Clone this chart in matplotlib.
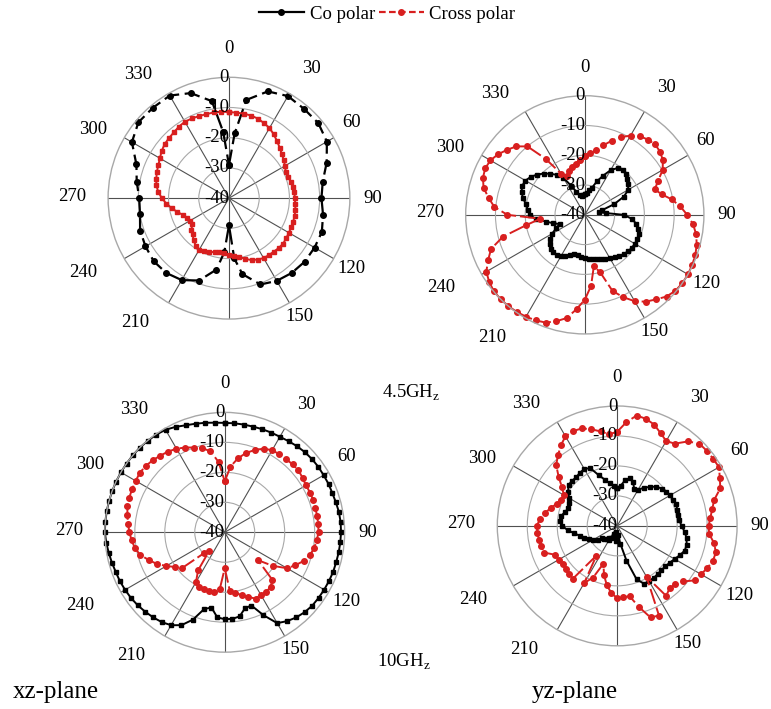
import numpy as np
import matplotlib
matplotlib.use('Agg')
import matplotlib.pyplot as plt
from matplotlib.lines import Line2D

plt.rcParams['font.family'] = 'Liberation Serif'
plt.rcParams['mathtext.fontset'] = 'custom'
plt.rcParams['mathtext.rm'] = 'Liberation Serif'

# angles in degrees (0 at top, clockwise), gains in dB
ang5 = np.arange(0, 360, 5)

# xz-plane, 4.5 GHz
xz45_co_ang = [0, 5, 10, 20, 30, 40, 50, 60, 70, 80, 90, 100, 110, 120, 130, 140, 150, 160,
               170, 175, 180, 185, 190, 200, 210, 220, 230, 240, 250, 260, 270, 280, 290,
               300, 310, 320, 330, 340, 350, 355]
xz45_co = [-29, -18.5, -7, -2.4, -1.0, -1.4, -1.4, -2.6, -5.6, -8.5, -9.4, -8.4, -7.3, -7.3,
           -7.3, -7.7, -8.4, -9.6, -14.5, -20, -31, -22, -16, -11, -8.7, -7.7, -7.5, -8.1,
           -8.7, -10.1, -10.3, -9.0, -7.4, -2.9, -0.9, -0.9, -0.8, -3, -7.4, -18]
xz45_cross = [-11.5, -11.6, -11.6, -11.7, -12.0, -12.6, -13.2, -14.2, -15.3, -16.3, -17.2, -17.9,
              -18.6, -19.3, -19.3, -18.8, -18.4, -18.3, -18.2, -18.0, -17.7, -17.5, -17.4, -17.3,
              -17.1, -16.9, -16.6, -16.7, -16.9, -17.0, -17.1, -17.6, -18.2, -19.2, -20.3, -20.9,
              -21.3, -21.7, -21.9, -21.5, -21.1, -20.6, -20.2, -20.8, -21.8, -23.0, -23.8, -25.2,
              -25.2, -24.6, -23.8, -22.3, -20.8, -19.2, -17.8, -16.5, -15.6, -15.1, -14.6, -14.2,
              -13.6, -12.8, -12.2, -11.9, -11.6, -11.1, -10.8, -10.9, -11.1, -11.2, -11.2, -11.3]

# yz-plane, 4.5 GHz
yz45_co = [-33, -32.5, -31.5, -30.5, -28, -25.5, -22.7, -20.8, -20.3, -20.6, -21.3, -22.2,
           -23.2, -25.5, -29.5, -34, -35, -33, -27, -24, -22.5, -21.5, -20.8, -20.6,
           -20.6, -20.7, -21.0, -21.4, -22.0, -22.6, -23.2, -23.7, -24.2, -24.6, -25.0, -25.2,
           -25.4, -25.8, -26.2, -26.5, -25.8, -24.6, -23.9, -23.5, -23.5, -23.9, -24.8, -25.8,
           -27.2, -29.5, -31, -29, -26.9, -23.5, -21.5, -20.8, -20.0, -18.5, -17.4, -16.8,
           -17.0, -17.8, -19.0, -20.4, -22.0, -23.6, -25.6, -29.3, -31.8, -33.2, -33.7, -33.4]
yz45_cross = [-20.4, -19.3, -18.0, -15.8, -13.5, -11.2, -9.3, -7.8, -7.0, -6.6, -7.0, -8.0,
              -9.8, -12.8, -15.0, -13.3, -10.3, -7.8, -5.6, -3.5, -2.0, -1.1, -0.5, -0.2,
              0, 0, -0.3, -1.2, -2.9, -4.4, -6.5, -9.5, -12.8, -20, -22.5, -16,
              -11.5, -8.2, -4.8, -3.0, -1.5, -0.9, -0.5, -0.2, 0, 0, -0.1, -0.8,
              -1.8, -4.2, -6.5, -11.5, -20, -25, -14, -9.5, -7.2, -4.8, -3.6, -3.1,
              -3.4, -4.5, -6.0, -7.5, -10.0, -17, -24, -25.5, -24.5, -23.4, -22.5, -21.5]

# xz-plane, 10 GHz
xz10_co = [-3.5, -3.5, -3.5, -3.5, -3.4, -3.3, -3.2, -2.9, -2.5, -2.2, -2.0, -1.9,
           -1.9, -1.8, -1.8, -1.6, -1.3, -1.2, -1.2, -1.3, -1.4, -1.5, -1.5, -1.6,
           -1.7, -1.8, -1.9, -2.3, -2.9, -3.8, -5.0, -9.5, -14.0, -13.8, -11.5, -11.0,
           -11.0, -11.5, -14.5, -13.5, -9.0, -5.8, -4.2, -3.4, -2.9, -2.5, -2.1, -1.8,
           -1.6, -1.4, -1.3, -1.0, -0.7, -0.3, 0, 0, 0, 0, 0, 0,
           0, 0, 0, 0, -0.1, -0.2, -0.5, -1.2, -2.0, -2.5, -2.9, -3.3]
xz10_cross = [-23, -18, -15, -12.6, -10.8, -9.2, -8.4, -8.2, -8.1, -8.0, -7.9, -8.3,
              -8.7, -8.6, -8.6, -8.7, -8.7, -8.7, -8.7, -9.2, -9.7, -10.6, -12.0, -14.0,
              -16.0, -20.5, -25.5, -17.5, -16.2, -15.8, -15.9, -15.6, -17, -18.3, -19.5, -20.4,
              -28, -21, -19.6, -19.7, -19.7, -20, -20.8, -24.5, -32, -30, -21.5, -19.8,
              -17.5, -15.0, -13, -10.8, -9.6, -8.8, -8.2, -7.6, -7.0, -6.4, -6.1, -5.9,
              -5.7, -5.4, -5.6, -6.0, -6.6, -7.1, -7.8, -8.8, -9.9, -11, -12.5, -16.5]

# yz-plane, 10 GHz
yz10_co = [-27.5, -26.5, -24.5, -23.5, -24.5, -26.5, -26, -24.5, -23, -21.5, -20.6, -20.0,
           -19.6, -19.3, -19.1, -19.2, -19.5, -19.2, -18.5, -17.4, -16.5, -16, -16, -16.9,
           -17.9, -18.6, -19, -19.1, -19, -18.8, -18.8, -18.7, -21, -28, -34, -37,
           -36, -35, -38, -36, -37, -35.5, -34.5, -35, -34.5, -34, -33.5, -32,
           -30.5, -29.5, -28.3, -27.2, -25.5, -23.5, -21.6, -21, -21, -22, -22.7, -22.3,
           -21.5, -20, -18.8, -18.7, -18.8, -18.3, -18.1, -18.7, -22, -24, -25.6, -26.8]
yz10_cross = [-8.6, -5.3, -2.6, -3.0, -4.0, -5.8, -7.3, -6.5, -3.2, -1.2, -1.0, -0.9,
              -0.8, -2.2, -3.4, -6.5, -7.8, -8.8, -9.5, -9.2, -7.2, -5.9, -6.0, -6.8,
              -7.7, -8.3, -11.2, -12.5, -12.8, -11.5, -20.4, -7.0, -7.5, -12.0, -16.2, -16.1,
              -15.9, -17.5, -20, -23, -26.6, -21, -18, -27.9, -17, -17.1, -17.5, -17.8,
              -17.5, -17.2, -14.0, -13.8, -13.5, -13.3, -13.2, -14.1, -15.5, -17, -18.5, -19.5,
              -19.5, -17.5, -14.5, -11.2, -9.3, -7.2, -5.5, -5.1, -5.4, -6.6, -8.0, -9.3]

theta_labels = [0, 30, 60, 90, 120, 150, 210, 240, 270, 300, 330]
r_ticks = [0, -10, -20, -30, -40]

# where each angle label sits: direction (deg) and distance as a fraction of the outer radius
label_dir = [0, 32.6, 58.3, 90, 119.6, 149, 217, 243, 270.7, 296.6, 323.5]
label_dist = [1.24, 1.27, 1.195, 1.19, 1.17, 1.14, 1.29, 1.35, 1.30, 1.26, 1.27]

red = '#d81f1f'
fs = 13.5

fig = plt.figure(figsize=(7.71, 7.09), dpi=100)


def polar_axes(rect):
    ax = fig.add_axes(rect, projection='polar')
    ax.set_theta_zero_location('N')
    ax.set_theta_direction(-1)
    ax.set_ylim(-40, 0)
    ax.set_thetagrids(range(0, 360, 30), labels=[])
    ax.set_rgrids([-30, -20, -10], labels=[])
    ax.xaxis.grid(True, color='#505050', lw=0.8)
    ax.yaxis.grid(True, color='#a8a8a8', lw=0.8)
    ax.spines['polar'].set_color('#a8a8a8')
    ax.spines['polar'].set_linewidth(1.0)
    for a, t, d in zip(theta_labels, label_dir, label_dist):
        ax.text(np.deg2rad(t), -40 + 40 * d, str(a), ha='center', va='center', fontsize=fs)
    for r in r_ticks:
        ax.text(0, r, str(r), ha='right', va='center', fontsize=fs)
    return ax


def closed(a, v):
    a = list(a) + [a[0]]
    v = list(v) + [v[0]]
    return np.deg2rad(a), v


ax1 = polar_axes([0.140, 0.550, 0.314, 0.341])
th, r = closed(xz45_co_ang, xz45_co)
ax1.plot(th, r, color='black', lw=1.6, ls=(0, (7, 2.5)), marker='o', ms=4, clip_on=False)
th, r = closed(ang5, xz45_cross)
ax1.plot(th, r, color=red, lw=1.4, marker='s', ms=3.5, clip_on=False)

ax2 = polar_axes([0.604, 0.529, 0.309, 0.336])
th, r = closed(ang5, yz45_co)
ax2.plot(th, r, color='black', lw=1.4, marker='s', ms=3.5, clip_on=False)
th, r = closed(ang5, yz45_cross)
ax2.plot(th, r, color=red, lw=1.4, ls=(0, (8, 2)), marker='o', ms=4, clip_on=False)

ax3 = polar_axes([0.136, 0.080, 0.311, 0.3385])
th, r = closed(ang5, xz10_co)
ax3.plot(th, r, color='black', lw=1.4, marker='s', ms=3.5, clip_on=False)
th, r = closed(ang5, xz10_cross)
ax3.plot(th, r, color=red, lw=1.4, ls=(0, (8, 2)), marker='o', ms=4, clip_on=False)

ax4 = polar_axes([0.645, 0.089, 0.311, 0.3385])
th, r = closed(ang5, yz10_co)
ax4.plot(th, r, color='black', lw=1.4, marker='s', ms=3.5, clip_on=False)
th, r = closed(ang5, yz10_cross)
ax4.plot(th, r, color=red, lw=1.4, ls=(0, (8, 2)), marker='o', ms=4, clip_on=False)

handles = [Line2D([], [], color='black', lw=1.6, marker='o', ms=4),
           Line2D([], [], color=red, lw=1.6, ls=(0, (3, 1.5)), marker='o', ms=4)]
fig.legend(handles, ['Co polar', 'Cross polar'], loc='center', bbox_to_anchor=(0.502, 0.980),
           ncol=2, frameon=False, fontsize=fs, handlelength=2.4, handletextpad=0.3,
           columnspacing=0.2)

fig.text(0.495, 0.446, r'4.5GH$_\mathregular{z}$', fontsize=fs, va='center')
fig.text(0.489, 0.066, r'10GH$_\mathregular{z}$', fontsize=fs, va='center')
fig.text(0.016, 0.024, 'xz-plane', fontsize=18, va='center')
fig.text(0.690, 0.024, 'yz-plane', fontsize=18, va='center')

fig.savefig('out.png', dpi=100)
